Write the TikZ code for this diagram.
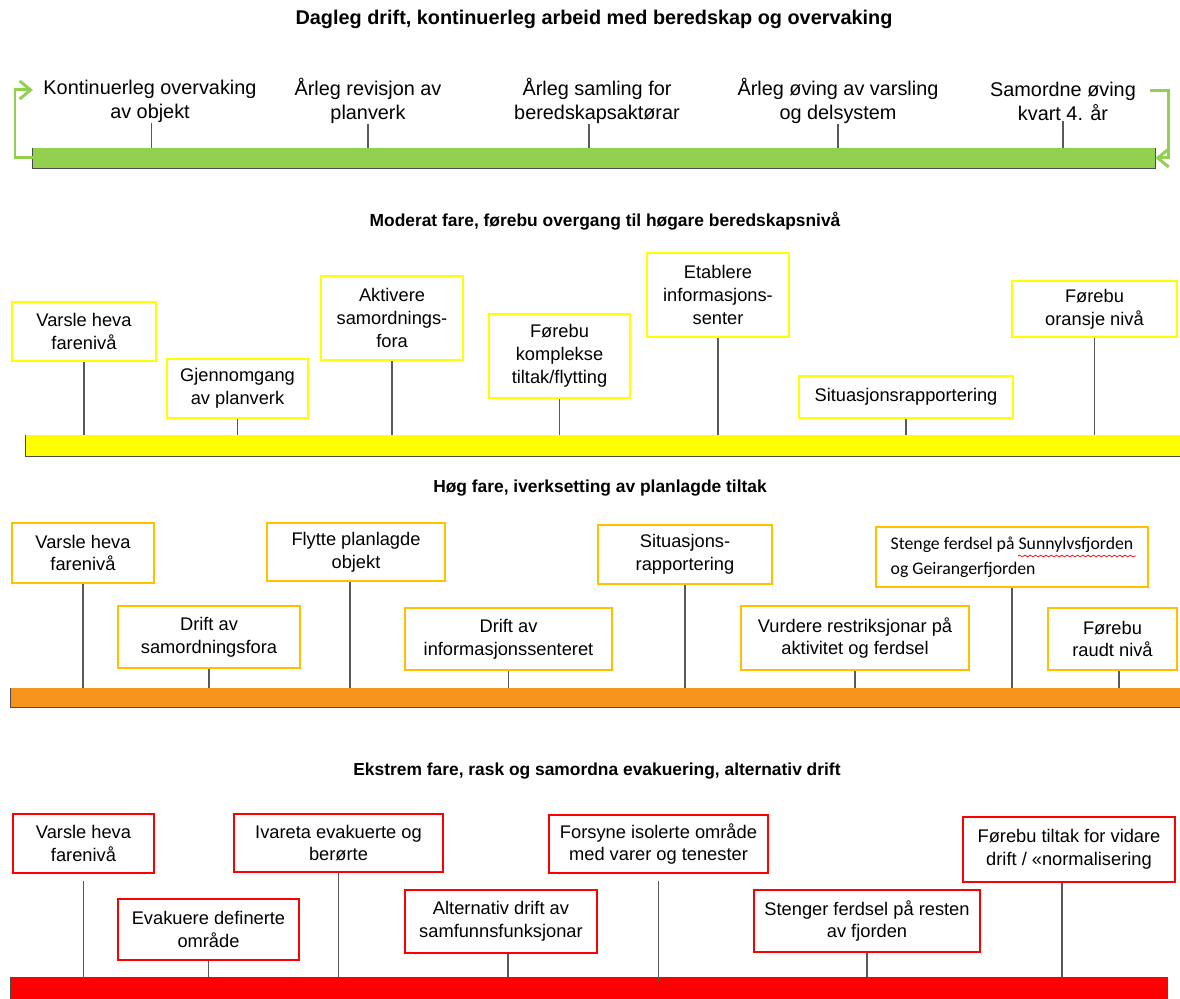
\documentclass[tikz,border=0pt]{standalone}
\usepackage{fontspec}
\setmainfont{Liberation Sans}
\newfontfamily\calibri{Carlito}
\usepackage{xcolor}
\usetikzlibrary{fit,arrows.meta,decorations.pathmorphing}

\definecolor{gronn}{HTML}{92D050}
\definecolor{gul}{HTML}{FFFF00}
\definecolor{oransje}{HTML}{F7941D}
\definecolor{rav}{HTML}{FFC000}
\definecolor{raud}{HTML}{FF0000}
\definecolor{strek}{HTML}{595959}

\newcommand\boksfont{\fontsize{10.4}{13}\selectfont}
\newcommand\toppfont{\fontsize{11.3}{13.6}\selectfont}

\tikzset{
  ybox/.style={draw=gul, line width=1.3pt, inner sep=0pt, align=center, font=\boksfont},
  obox/.style={ybox, draw=rav},
  rbox/.style={ybox, draw=raud, line width=1.1pt},
  ramme/.style args={#1x#2}{minimum width=#1*0.02cm, minimum height=#2*0.02cm},
  stolpe/.style={draw=strek, line width=0.8pt},
  kant/.style={draw=black!70, line width=0.8pt},
  overskrift/.style={font=\bfseries\fontsize{9.9}{12}\selectfont},
  gronnpil/.style={draw=gronn, line width=1.7pt, -{Straight Barb[length=2.2mm,width=3.6mm]}}
}

\begin{document}
\begin{tikzpicture}[x=0.02cm, y=-0.02cm]
  \useasboundingbox (0,0) rectangle (1180,999);

  % dagleg drift
  \node[font=\bfseries\toppfont] (tittel1) at (594,19) {Dagleg drift, kontinuerleg arbeid med beredskap og overvaking};
  \node[fit={(33,148) (1155,168)}, fill=gronn, inner sep=0pt] (bar1) {};
  \draw[kant] (bar1.north west) -- (bar1.south west) -- (bar1.south east) -- (bar1.north east);
  \node[align=center, font=\toppfont, inner sep=0pt] (t1) at (150,101) {Kontinuerleg overvaking\\av objekt};
  \node[align=center, font=\toppfont, inner sep=0pt] (t2) at (368,101) {Årleg revisjon av\\planverk};
  \node[align=center, font=\toppfont, inner sep=0pt] (t3) at (597,101) {Årleg samling for\\beredskapsaktørar};
  \node[align=center, font=\toppfont, inner sep=0pt] (t4) at (838,101) {Årleg øving av varsling\\og delsystem};
  \node[align=center, font=\toppfont, inner sep=0pt] (t5) at (1063,101) {Samordne øving\\kvart 4. år};
  \draw[stolpe] ([xshift=1pt]t1.south) -- ([xshift=1pt]t1.south |- bar1.north);
  \draw[stolpe] (t2.south) -- (t2.south |- bar1.north);
  \draw[stolpe] ([xshift=-4.5pt]t3.south) -- ([xshift=-4.5pt]t3.south |- bar1.north);
  \draw[stolpe] (t4.south) -- (t4.south |- bar1.north);
  \draw[stolpe] (t5.south) -- (t5.south |- bar1.north);
  \coordinate (loopV) at (33,90);
  \coordinate (loopH) at (1150,91);
  \draw[gronnpil] (bar1.west) -| (15,90) -- (loopV);
  \draw[gronnpil] (loopH) -| (1168,158) -- (bar1.east);

  % moderat fare
  \node[overskrift] (tittel2) at (605,221) {Moderat fare, førebu overgang til høgare beredskapsnivå};
  \node[fit={(26,435) (1180,456)}, fill=gul, inner sep=0pt] (bar2) {};
  \draw[kant] (bar2.north west) -- (bar2.south west) -- (bar2.south east);
  \node[ybox, ramme=144x59] (y1) at (84,331.5) {Varsle heva\\farenivå};
  \node[ybox, ramme=141x59] (y2) at (237.5,388.5) {Gjennomgang\\av planverk};
  \node[ybox, ramme=142x84] (y3) at (392,318) {Aktivere\\samordnings-\\fora};
  \node[ybox, ramme=141x84] (y4) at (559.5,356) {Førebu\\komplekse\\tiltak/flytting};
  \node[ybox, ramme=142x84] (y5) at (718,295) {Etablere\\informasjons-\\senter};
  \node[ybox, ramme=214x42] (y6) at (906,397) {Situasjonsrapportering};
  \node[ybox, ramme=165x56] (y7) at (1094.5,309) {Førebu\\oransje nivå};
  \foreach \b in {y1,y2,y3,y4,y5,y6,y7}
    \draw[stolpe] (\b.south) -- (\b.south |- bar2.north);

  % hog fare
  \node[overskrift] (tittel3) at (600,488) {Høg fare, iverksetting av planlagde tiltak};
  \node[fit={(11,688) (1180,707)}, fill=oransje, inner sep=0pt] (bar3) {};
  \draw[kant] (bar3.north west) -- (bar3.south west) -- (bar3.south east);
  \node[obox, ramme=142x60] (o1) at (83,553) {Varsle heva\\farenivå};
  \node[obox, ramme=182x62] (o2) at (209,637) {Drift av\\samordningsfora};
  \node[obox, ramme=178x58] (o3) at (356,552) {Flytte planlagde\\objekt};
  \node[obox, ramme=207x62] (o4) at (508.5,639) {Drift av\\informasjonssenteret};
  \node[obox, ramme=174x59] (o5) at (685,554.5) {Situasjons-\\rapportering};
  \node[obox, ramme=228x64] (o6) at (855,638) {Vurdere restriksjonar på\\aktivitet og ferdsel};
  \node[obox, ramme=272x60, align=left, font=\calibri\fontsize{10.1}{14}\selectfont] (o7) at (1012,557)
    {Stenge ferdsel på Sunnylvsfjorden\\og Geirangerfjorden};
  \node[obox, ramme=129x62] (o8) at (1112.5,639) {Førebu\\raudt nivå};
  \draw[stolpe] ([xshift=-3.4pt]o3.south) -- ([xshift=-3.4pt]o3.south |- bar3.north);
  \draw[stolpe] ([xshift=3.7pt]o8.south) -- ([xshift=3.7pt]o8.south |- bar3.north);
  \foreach \b in {o1,o2,o4,o5,o6,o7}
    \draw[stolpe] (\b.south) -- (\b.south |- bar3.north);
  \draw[raud, line width=0.4pt, decorate, decoration={snake, segment length=3pt, amplitude=0.5pt}]
    (1018,556) -- (1136,556);

  % ekstrem fare
  \node[overskrift] (tittel4) at (597,771) {Ekstrem fare, rask og samordna evakuering, alternativ drift};
  \node[fit={(11,977) (1168,999)}, fill=raud, inner sep=0pt] (bar4) {};
  \draw[kant] (bar4.north west) -- (bar4.south west);
  \node[rbox, ramme=141x59] (r1) at (83.5,843.5) {Varsle heva\\farenivå};
  \node[rbox, ramme=181x61] (r2) at (208.5,929.5) {Evakuere definerte\\område};
  \node[rbox, ramme=209x58] (r3) at (338.5,843) {Ivareta evakuerte og\\berørte};
  \node[rbox, ramme=192x63] (r4) at (501,921.5) {Alternativ drift av\\samfunnsfunksjonar};
  \node[rbox, ramme=219x58] (r5) at (658.5,844) {Forsyne isolerte område\\med varer og tenester};
  \node[rbox, ramme=226x62] (r6) at (867,921) {Stenger ferdsel på resten\\av fjorden};
  \node[rbox, ramme=212x65] (r7) at (1069,849.5) {Førebu tiltak for vidare\\drift / «normalisering};
  \draw[stolpe] ([yshift=-4pt]r1.south) -- ([yshift=-3pt]r1.south |- bar4.north);
  \draw[stolpe] ([yshift=-4pt]r5.south) -- ([yshift=-3pt]r5.south |- bar4.north);
  \draw[stolpe] ([xshift=4pt]r4.south) -- ([xshift=4pt]r4.south |- bar4.north);
  \draw[stolpe] ([xshift=-4pt]r7.south) -- ([xshift=-4pt]r7.south |- bar4.north);
  \foreach \b in {r2,r3,r6}
    \draw[stolpe] (\b.south) -- (\b.south |- bar4.north);
\end{tikzpicture}
\end{document}
